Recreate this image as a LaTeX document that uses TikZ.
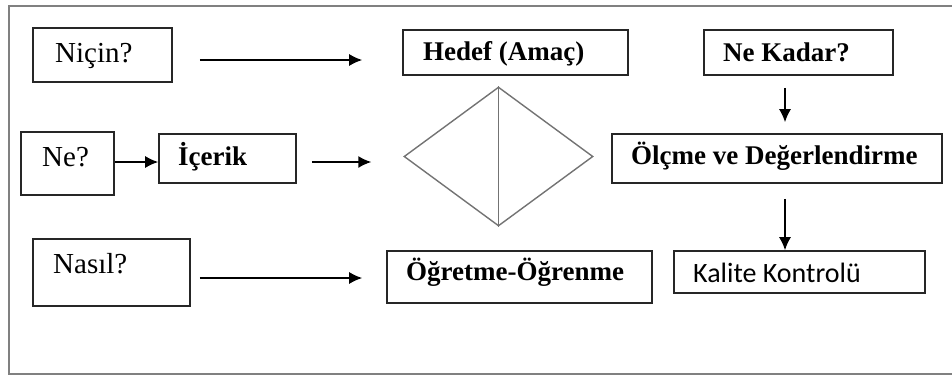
\documentclass[tikz,border=0pt]{standalone}
\usepackage{fontspec}
\setmainfont{Liberation Serif}
\newfontfamily\calibri{Carlito}
\usetikzlibrary{positioning,shapes.geometric,arrows.meta,calc}

\tikzset{
  box/.style={draw=black!85, line width=1.6pt, inner sep=0pt},
  txt/.style={inner sep=0pt, anchor=base west, font=\fontsize{29}{32}\selectfont},
  btxt/.style={txt, font=\fontsize{27}{30}\selectfont\bfseries},
  ctxt/.style={txt, font=\fontsize{28}{31}\selectfont\calibri},
  arr/.style={-{Latex[length=13pt,width=12pt]}, line width=1.5pt},
  rim/.style={draw=black!55, line width=1.4pt},
}

\begin{document}
\begin{tikzpicture}[x=1pt, y=-1pt]
  \useasboundingbox (0,0) rectangle (952,376);
  \draw[black!50, line width=2pt] (952,6) -- (9,6) -- (9,374) -- (952,374);

  \node[box, minimum width=139pt, minimum height=54pt] (nicin)   at (102.5,55)  {};
  \node[box, minimum width=225pt, minimum height=45pt] (hedef)   at (515.5,52.5) {};
  \node[box, minimum width=189pt, minimum height=45pt] (nekadar) at (798.5,52.5) {};
  \node[box, minimum width=93pt,  minimum height=63pt] (ne)      at (67.5,163.5) {};
  \node[box, minimum width=137pt, minimum height=49pt] (icerik)  at (227.5,158.5) {};
  \node[box, minimum width=330pt, minimum height=49pt] (olcme)   at (777,158.5) {};
  \node[box, minimum width=157pt, minimum height=67pt] (nasil)   at (111.5,272.5) {};
  \node[box, minimum width=265pt, minimum height=52pt] (ogretme) at (519.5,277) {};
  \node[box, minimum width=251pt, minimum height=42pt] (kalite)  at (799.5,272) {};
  \node[diamond, rim, minimum width=189pt, minimum height=139pt, inner sep=0pt] (dia) at (498.5,156.5) {};
  \draw[rim] (dia.north) -- (dia.south);

  \node[txt]  (nicin-t)   at (55,62)   {Niçin?};
  \node[btxt] (hedef-t)   at (423,60)  {Hedef (Amaç)};
  \node[btxt] (nekadar-t) at (723,61)  {Ne Kadar?};
  \node[txt]  (ne-t)      at (42,166)  {Ne?};
  \node[btxt] (icerik-t)  at (178,165) {İçerik};
  \node[btxt] (olcme-t)   at (631,164) {Ölçme ve Değerlendirme};
  \node[txt]  (nasil-t)   at (53,273)  {Nasıl?};
  \node[btxt] (ogretme-t) at (406,280) {Öğretme-Öğrenme};
  \node[ctxt] (kalite-t)  at (693,282) {Kalite Kontrolü};

  \draw[arr] ($(nicin.east)+(27,5)$) -- ($(nicin.east -| hedef.west)+(-40,5)$);
  \draw[arr] ($(ne.east)+(0,-1.5)$) -- ($(ne.east -| icerik.west)+(0,-1.5)$);
  \draw[arr] ($(icerik.east)+(15,3.5)$) -- ($(icerik.east -| dia.west)+(-32,3.5)$);
  \draw[arr] ($(nasil.east)+(9,5.5)$) -- ($(nasil.east -| ogretme.west)+(-24,5.5)$);
  \draw[arr] ($(nekadar.south)+(-13.5,12)$) -- ($(nekadar.south |- olcme.north)+(-13.5,-11)$);
  \draw[arr] ($(olcme.south)+(8,15)$) -- ($(olcme.south |- kalite.north)+(8,0)$);
\end{tikzpicture}
\end{document}
